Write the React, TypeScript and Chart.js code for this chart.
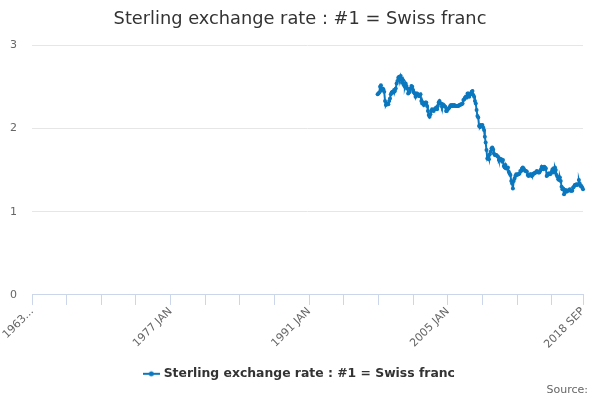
import React, { useEffect, useRef } from 'react';
import { Chart, registerables } from 'chart.js';

Chart.register(...registerables);

const TITLE = 'Sterling exchange rate : #1 = Swiss franc';
const SERIES_LABEL = 'Sterling exchange rate : #1 = Swiss franc';
const SOURCE = 'Source:';

const MONTHS = ['JAN', 'FEB', 'MAR', 'APR', 'MAY', 'JUN', 'JUL', 'AUG', 'SEP', 'OCT', 'NOV', 'DEC'];
const FIRST_YEAR = 1963;
const LAST_YEAR = 2018;
const LAST_MONTH = 'SEP';

const categories: string[] = [];
for (let y = FIRST_YEAR; y <= LAST_YEAR; y++) {
  for (const m of MONTHS) {
    categories.push(`${y} ${m}`);
    if (y === LAST_YEAR && m === LAST_MONTH) break;
  }
}

// Tick labels shown on the x axis
const TICK_LABELS: Record<string, string> = {
  '1963 JAN': '1963...',
  '1977 JAN': '1977 JAN',
  '1991 JAN': '1991 JAN',
  '2005 JAN': '2005 JAN',
  '2018 SEP': '2018 SEP',
};
const TICK_MARK_EVERY = 42; // months between tick marks

const Y_TICKS = [0, 1, 2, 3];

// Monthly values from 1997 DEC to 2018 SEP
const FIRST_DATA_MONTH = '1997 DEC';
const v1997 = [2.41];
const v1998 = [2.42, 2.43, 2.50, 2.52, 2.46, 2.48, 2.47, 2.44, 2.33, 2.28, 2.30, 2.29];
const v1999 = [2.29, 2.33, 2.36, 2.41, 2.43, 2.44, 2.43, 2.46, 2.45, 2.48, 2.54, 2.57];
const v2000 = [2.61, 2.62, 2.59, 2.63, 2.60, 2.55, 2.58, 2.52, 2.50, 2.54, 2.51, 2.48];
const v2001 = [2.42, 2.43, 2.44, 2.48, 2.51, 2.50, 2.46, 2.43, 2.42, 2.38, 2.42, 2.42];
const v2002 = [2.40, 2.39, 2.40, 2.41, 2.33, 2.30, 2.31, 2.28, 2.30, 2.31, 2.31, 2.27];
const v2003 = [2.21, 2.16, 2.14, 2.17, 2.21, 2.23, 2.22, 2.21, 2.23, 2.24, 2.25, 2.23];
const v2004 = [2.27, 2.31, 2.33, 2.30, 2.30, 2.26, 2.29, 2.28, 2.27, 2.26, 2.21, 2.21];
const v2005 = [2.23, 2.24, 2.25, 2.27, 2.28, 2.27, 2.28, 2.27, 2.28, 2.27, 2.27, 2.27];
const v2006 = [2.27, 2.27, 2.28, 2.28, 2.29, 2.29, 2.30, 2.34, 2.35, 2.37, 2.38, 2.37];
const v2007 = [2.42, 2.42, 2.38, 2.41, 2.41, 2.44, 2.45, 2.40, 2.38, 2.33, 2.30, 2.22];
const v2008 = [2.15, 2.13, 2.03, 2.02, 2.04, 2.03, 2.04, 2.01, 1.98, 1.90, 1.83, 1.74];
const v2009 = [1.64, 1.66, 1.63, 1.69, 1.72, 1.76, 1.77, 1.75, 1.70, 1.68, 1.68, 1.68];
const v2010 = [1.67, 1.66, 1.62, 1.64, 1.62, 1.63, 1.60, 1.62, 1.55, 1.53, 1.56, 1.52];
const v2011 = [1.52, 1.53, 1.48, 1.46, 1.44, 1.37, 1.34, 1.28, 1.37, 1.40, 1.43, 1.45];
const v2012 = [1.44, 1.45, 1.45, 1.46, 1.49, 1.49, 1.52, 1.53, 1.52, 1.50, 1.49, 1.49];
const v2013 = [1.48, 1.44, 1.43, 1.44, 1.45, 1.45, 1.43, 1.44, 1.46, 1.46, 1.47, 1.47];
const v2014 = [1.49, 1.48, 1.47, 1.47, 1.49, 1.51, 1.54, 1.52, 1.51, 1.54, 1.53, 1.52];
const v2015 = [1.43, 1.44, 1.46, 1.46, 1.45, 1.46, 1.48, 1.51, 1.48, 1.47, 1.53, 1.50];
const v2016 = [1.44, 1.42, 1.39, 1.38, 1.41, 1.37, 1.30, 1.27, 1.28, 1.21, 1.25, 1.26];
const v2017 = [1.24, 1.25, 1.25, 1.26, 1.27, 1.25, 1.25, 1.25, 1.29, 1.30, 1.32, 1.32];
const v2018 = [1.33, 1.32, 1.33, 1.38, 1.34, 1.31, 1.31, 1.29, 1.27];

const observed = [
  ...v1997, ...v1998, ...v1999, ...v2000, ...v2001, ...v2002, ...v2003,
  ...v2004, ...v2005, ...v2006, ...v2007, ...v2008, ...v2009, ...v2010,
  ...v2011, ...v2012, ...v2013, ...v2014, ...v2015, ...v2016, ...v2017, ...v2018,
];

const startIdx = categories.indexOf(FIRST_DATA_MONTH);
const values: (number | null)[] = categories.map((_, i) =>
  i < startIdx ? null : observed[i - startIdx] ?? null
);

const LINE_COLOR = '#0a77be';
const FONT = '"DejaVu Sans", "Lucida Grande", sans-serif';

const sourcePlugin = {
  id: 'sourceText',
  afterDraw(chart: any) {
    const { ctx, width, height } = chart;
    ctx.save();
    ctx.font = `11px ${FONT}`;
    ctx.fillStyle = '#666666';
    ctx.textAlign = 'right';
    ctx.textBaseline = 'middle';
    ctx.fillText(SOURCE, width - 12, height - 10);
    ctx.restore();
  },
};

export default function App() {
  const ref = useRef<HTMLCanvasElement | null>(null);

  useEffect(() => {
    document.body.style.margin = '0';
    const canvas = ref.current;
    if (!canvas) return;

    const icon = document.createElement('canvas');
    icon.width = 17;
    icon.height = 8;
    const ictx = icon.getContext('2d');
    if (ictx) {
      ictx.strokeStyle = LINE_COLOR;
      ictx.lineWidth = 2;
      ictx.beginPath();
      ictx.moveTo(0, 4);
      ictx.lineTo(17, 4);
      ictx.stroke();
      ictx.fillStyle = LINE_COLOR;
      ictx.beginPath();
      ictx.arc(8.5, 4, 2.5, 0, Math.PI * 2);
      ictx.fill();
    }

    const last = categories.length - 1;
    const chart = new Chart(canvas, {
      type: 'line',
      data: {
        labels: categories,
        datasets: [
          {
            label: SERIES_LABEL,
            data: values,
            borderColor: LINE_COLOR,
            backgroundColor: LINE_COLOR,
            borderWidth: 2,
            pointRadius: 2,
            pointBorderWidth: 0,
            pointBackgroundColor: LINE_COLOR,
            tension: 0,
            spanGaps: false,
          },
        ],
      },
      plugins: [sourcePlugin],
      options: {
        animation: false,
        responsive: false,
        maintainAspectRatio: false,
        layout: { padding: { left: 0, right: 0, top: 0, bottom: 10 } },
        plugins: {
          title: {
            display: true,
            text: TITLE,
            color: '#333333',
            font: { family: FONT, size: 17.8, weight: 'normal' },
            padding: { top: 9, bottom: 14.8 },
          },
          legend: {
            display: true,
            position: 'bottom',
            labels: {
              color: '#333333',
              font: { family: FONT, size: 12.4, weight: 'bold' },
              usePointStyle: true,
              padding: 16.5,
              generateLabels: () => [
                {
                  text: SERIES_LABEL,
                  pointStyle: icon,
                  fillStyle: LINE_COLOR,
                  strokeStyle: LINE_COLOR,
                  lineWidth: 0,
                  hidden: false,
                  datasetIndex: 0,
                  fontColor: '#333333',
                },
              ],
            },
          },
          tooltip: { enabled: false },
        },
        scales: {
          x: {
            type: 'category',
            offset: false,
            border: { display: true, color: '#ccd6eb', width: 1 },
            grid: {
              display: true,
              drawOnChartArea: false,
              drawTicks: true,
              tickLength: 10,
              color: (ctx: any) =>
                ctx.index % TICK_MARK_EVERY === 0 || ctx.index === last ? '#ccd6eb' : 'rgba(0,0,0,0)',
              tickColor: (ctx: any) =>
                ctx.index % TICK_MARK_EVERY === 0 || ctx.index === last ? '#ccd6eb' : 'rgba(0,0,0,0)',
            },
            ticks: {
              autoSkip: false,
              maxRotation: 45,
              minRotation: 45,
              padding: 0,
              color: '#666666',
              font: { family: FONT, size: 11 },
              callback: (_v: any, i: number) => TICK_LABELS[categories[i]] ?? '',
            },
          },
          y: {
            min: 0,
            max: 3,
            afterFit: (scale: any) => {
              scale.width = 32;
            },
            afterBuildTicks: (scale: any) => {
              scale.ticks = Y_TICKS.map((v) => ({ value: v }));
            },
            border: { display: false },
            grid: { color: '#e6e6e6', drawTicks: false, lineWidth: 1 },
            ticks: {
              padding: 15,
              color: '#666666',
              font: { family: FONT, size: 11 },
            },
          },
          yRight: {
            type: 'linear',
            position: 'right',
            display: true,
            min: 0,
            max: 3,
            afterFit: (scale: any) => {
              scale.width = 17;
            },
            border: { display: false },
            grid: { display: false, drawTicks: false },
            ticks: { display: false },
          },
        },
      },
    });

    return () => chart.destroy();
  }, []);

  return (
    <div style={{ width: 600, height: 400 }}>
      <canvas ref={ref} width={600} height={400} style={{ display: 'block', width: 600, height: 400 }} />
    </div>
  );
}
